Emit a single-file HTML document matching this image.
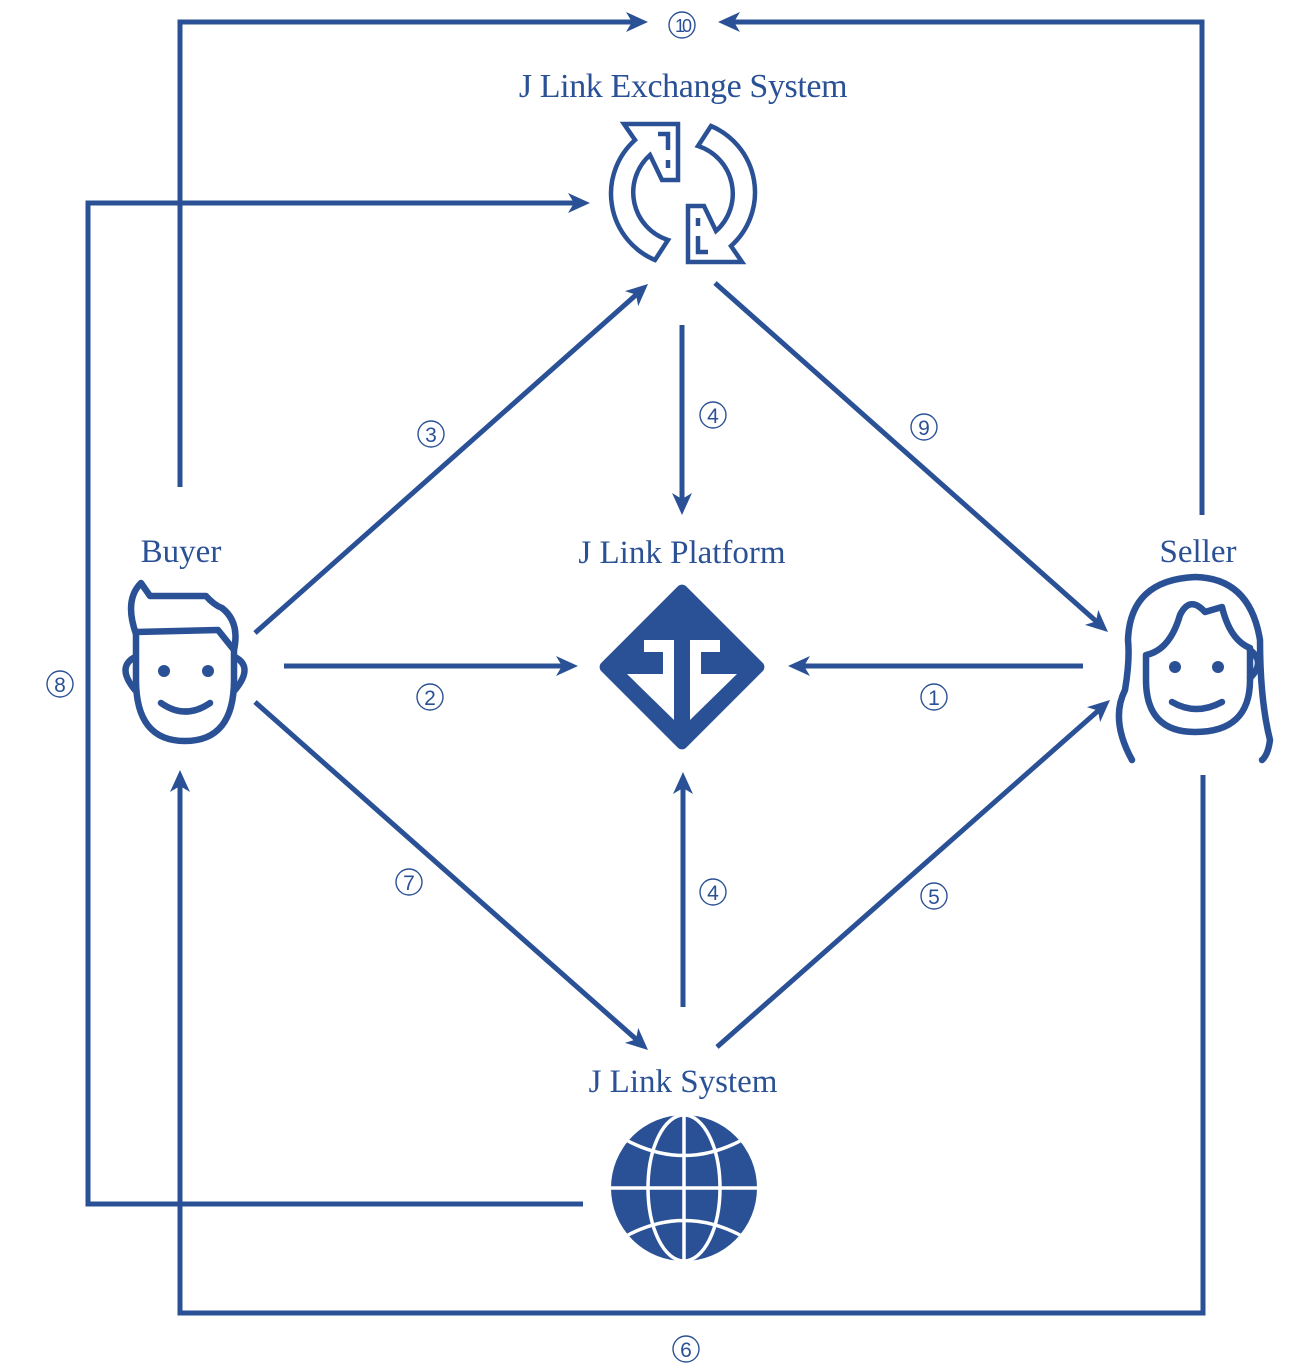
<!DOCTYPE html>
<html><head><meta charset="utf-8"><style>
html,body{margin:0;padding:0;background:#fff;width:1316px;height:1366px;overflow:hidden}
svg{display:block}
text{font-family:"Liberation Serif",serif;fill:#2a5196}
</style></head><body>
<svg id="s" width="1316" height="1366" viewBox="0 0 1316 1366" xmlns="http://www.w3.org/2000/svg">
<g fill="none" stroke="#2a5196" stroke-width="5" stroke-linejoin="miter">
<polyline points="180,487 180,22 632,22"/>
<polyline points="1202,515 1202,22 733,22"/>
<polyline points="583,1204 88,1204 88,203 575,203"/>
<polyline points="1203,775 1203,1313 180,1313 180,785"/>
<line x1="255" y1="633" x2="637" y2="294"/>
<line x1="682" y1="325" x2="682" y2="500"/>
<line x1="715" y1="283" x2="1097" y2="622"/>
<line x1="284" y1="666" x2="563" y2="666"/>
<line x1="1083" y1="666" x2="803" y2="666"/>
<line x1="255" y1="702" x2="637" y2="1040"/>
<line x1="683" y1="1007" x2="683" y2="787"/>
<line x1="717" y1="1047" x2="1099" y2="710"/>
</g>
<g id="arrows" fill="#2a5196"></g>
<g fill="none" stroke="#2a5196" stroke-width="1.4">
<circle cx="682" cy="25" r="13"/><circle cx="431" cy="434" r="13"/><circle cx="713" cy="415" r="13"/>
<circle cx="924" cy="427" r="13"/><circle cx="430" cy="697" r="13"/><circle cx="934" cy="697" r="13"/>
<circle cx="60" cy="684" r="13"/><circle cx="409" cy="882" r="13"/><circle cx="713" cy="892" r="13"/>
<circle cx="934" cy="896" r="13"/><circle cx="686" cy="1349" r="13"/>
</g>
<g text-anchor="middle" font-size="21" style="font-family:'Liberation Sans',sans-serif;font-size:21px">
<text x="682" y="32" style="font-family:'Liberation Sans',sans-serif;font-size:18px;letter-spacing:-3px">10</text>
<text x="431" y="442" style="font-family:'Liberation Sans',sans-serif;font-size:21px">3</text>
<text x="713" y="423" style="font-family:'Liberation Sans',sans-serif;font-size:21px">4</text>
<text x="924" y="435" style="font-family:'Liberation Sans',sans-serif;font-size:21px">9</text>
<text x="430" y="705" style="font-family:'Liberation Sans',sans-serif;font-size:21px">2</text>
<text x="934" y="705" style="font-family:'Liberation Sans',sans-serif;font-size:21px">1</text>
<text x="60" y="692" style="font-family:'Liberation Sans',sans-serif;font-size:21px">8</text>
<text x="409" y="890" style="font-family:'Liberation Sans',sans-serif;font-size:21px">7</text>
<text x="713" y="900" style="font-family:'Liberation Sans',sans-serif;font-size:21px">4</text>
<text x="934" y="904" style="font-family:'Liberation Sans',sans-serif;font-size:21px">5</text>
<text x="686" y="1357" style="font-family:'Liberation Sans',sans-serif;font-size:21px">6</text>
</g>
<g text-anchor="middle">
<text x="683" y="97" style="font-size:34px;letter-spacing:-0.4px">J Link Exchange System</text>
<text x="181" y="562" style="font-size:33px">Buyer</text>
<text x="682" y="563" style="font-size:33px">J Link Platform</text>
<text x="1198" y="562" style="font-size:33px">Seller</text>
<text x="683" y="1092" style="font-size:33px">J Link System</text>
</g>
<!-- exchange icon -->
<g fill="none" stroke="#2a5196" stroke-width="4.5" stroke-linejoin="miter">
<path id="ex" d="M655,260 A72,72 0 0 1 635,140 L624,124 H678 V180 H662 L650,155 A50,50 0 0 0 668,240 Z"/>
<use href="#ex" transform="rotate(180 683 193)"/>
<path d="M658,134 H668 V150 M668,160 V168"/>
<path d="M708,252 H698 V236 M698,226 V218"/>
</g>
<!-- platform diamond -->
<rect x="622" y="607" width="120" height="120" rx="6" fill="#2a5196" transform="rotate(45 682 667)"/>
<path d="M644,640 H674 V720 L627,674 H663 V652 H644 Z" fill="#fff"/>
<path d="M720,640 H690 V720 L737,674 H701 V652 H720 Z" fill="#fff"/>
<!-- globe -->
<circle cx="684" cy="1188" r="73" fill="#2a5196"/>
<g fill="none" stroke="#fff" stroke-width="3.5">
<line x1="611" y1="1188" x2="757" y2="1188"/>
<line x1="684" y1="1115" x2="684" y2="1261"/>
<ellipse cx="684" cy="1188" rx="36" ry="73"/>
<path d="M628,1141 Q684,1170 740,1141 M628,1235 Q684,1206 740,1235"/>
</g>
<!-- buyer face -->
<g fill="none" stroke="#2a5196" stroke-width="6.5" stroke-linecap="round" stroke-linejoin="round">
<path d="M136,632 V680 Q136,741 185,741 Q234,741 234,680 V650 L218,630 Z"/>
<path d="M136,634 Q124,600 141,583 L150,596 H206 Q214,605 222,608 Q240,622 234,650"/>
<path d="M135,657 Q116,667 135,690 M235,657 Q254,667 235,690"/>
<path d="M161,703 Q185,720 210,703"/>
</g>
<circle cx="164" cy="671" r="6" fill="#2a5196"/><circle cx="208" cy="671" r="6" fill="#2a5196"/>
<!-- seller face -->
<g fill="none" stroke="#2a5196" stroke-width="6.5" stroke-linecap="round" stroke-linejoin="round">
<path d="M1132,760 Q1110,720 1125,690 Q1130,660 1128,640 Q1130,580 1195,577 Q1250,578 1260,640 Q1260,700 1270,740 Q1268,755 1262,760"/>
<path d="M1146,655 Q1170,650 1180,615 Q1190,595 1205,612 L1222,607 Q1230,640 1250,648 L1250,680 Q1250,732 1195,732 Q1146,732 1146,680 Z"/>
<path d="M1250,650 Q1266,662 1250,678"/>
<path d="M1172,702 Q1196,716 1222,702"/>
</g>
<circle cx="1175" cy="667" r="6" fill="#2a5196"/><circle cx="1218" cy="667" r="6" fill="#2a5196"/>
</svg>
<script>
var A=[[180,22,648,22],[1202,22,718,22],[88,203,590,203],[180,1313,180,770],[255,633,648,284],[682,325,682,515],[715,283,1108,632],[284,666,578,666],[1083,666,788,666],[255,702,648,1050],[683,1007,683,772],[717,1047,1110,700]];
var g=document.getElementById('arrows'),h='';
A.forEach(function(a){var dx=a[2]-a[0],dy=a[3]-a[1],l=Math.hypot(dx,dy),ux=dx/l,uy=dy/l,px=-uy,py=ux,L=22,W=10,N=16;
var t=[a[2],a[3]],b1=[a[2]-ux*L+px*W,a[3]-uy*L+py*W],m=[a[2]-ux*N,a[3]-uy*N],b2=[a[2]-ux*L-px*W,a[3]-uy*L-py*W];
h+='<polygon points="'+[t,b1,m,b2].map(function(p){return p[0].toFixed(1)+','+p[1].toFixed(1)}).join(' ')+'"/>';});
g.innerHTML=h;
</script>
</body></html>
